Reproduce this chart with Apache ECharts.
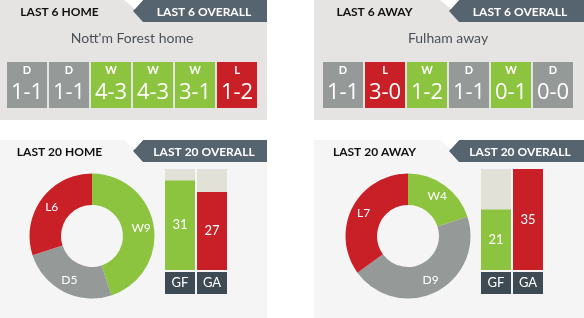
<!DOCTYPE html>
<html>
<head>
<meta charset="utf-8">
<script src="https://cdn.jsdelivr.net/npm/echarts@6/dist/echarts.min.js"></script>
<style>
  html, body { margin: 0; padding: 0; background: #fff; }
  #main { width: 584px; height: 318px; }
</style>
</head>
<body>
<div id="main"></div>
<script>
// last 6
var slots = ['1', '2', '3', '4', '5', '6'];
var homeResults = ['D', 'D', 'W', 'W', 'W', 'L'];
var homeScores = ['1-1', '1-1', '4-3', '4-3', '3-1', '1-2'];
var awayResults = ['D', 'L', 'W', 'D', 'W', 'D'];
var awayScores = ['1-1', '3-0', '1-2', '1-1', '0-1', '0-0'];

// last 20
var wdlNames = ['W', 'D', 'L'];
var homeWDL = [9, 5, 6];
var awayWDL = [4, 9, 7];
var goalCats = ['GF', 'GA'];
var homeGoals = [31, 27];
var awayGoals = [21, 35];
var goalMax = 35;

var GREEN = '#8cc43f', RED = '#c91f27', GREY = '#959a98';
var resultColor = { W: GREEN, D: GREY, L: RED };

var mychart = echarts.init(document.getElementById('main'));

function formBars(results, scores) {
    return results.map(function (r, i) {
        return { value: 1, res: r, score: scores[i], itemStyle: { color: resultColor[r] } };
    });
}

function goalBars(goals) {
    return goals.map(function (g, i) {
        return { value: g, itemStyle: { color: i === 0 ? GREEN : RED } };
    });
}

function pieData(vals) {
    var cols = [GREEN, GREY, RED];
    return vals.map(function (v, i) {
        return { name: wdlNames[i], value: v, itemStyle: { color: cols[i] } };
    });
}

// tab header: light part + dark arrow tab
function header(x0, y0, w, tabX, left, right) {
    return [
        { type: 'polygon', z: 1, shape: { points: [[tabX + 10, y0], [x0 + w, y0], [x0 + w, y0 + 22], [tabX + 10, y0 + 22], [tabX, y0 + 11]] }, style: { fill: '#56646f' } },
        { type: 'polygon', z: 1, shape: { points: [[tabX - 9, y0], [tabX + 10, y0], [tabX + 2, y0 + 9]] }, style: { fill: '#fff' } },
        { type: 'text', z: 5, x: (x0 + tabX) / 2 - 7, y: y0 + 12, style: { text: left, fill: '#111', font: 'bold 12px Lato', align: 'center', verticalAlign: 'middle' } },
        { type: 'text', z: 5, x: tabX + 71, y: y0 + 12, style: { text: right, fill: '#fff', font: 'bold 12px Lato', align: 'center', verticalAlign: 'middle' } }
    ];
}

var graphics = [
    { type: 'rect', z: 0, shape: { x: 0, y: 0, width: 267, height: 120 }, style: { fill: '#e6e4e2' } },
    { type: 'rect', z: 0, shape: { x: 314, y: 0, width: 270, height: 120 }, style: { fill: '#e6e4e2' } },
    { type: 'rect', z: 0, shape: { x: 0, y: 140, width: 267, height: 178 }, style: { fill: '#f5f5f5' } },
    { type: 'rect', z: 0, shape: { x: 314, y: 140, width: 270, height: 178 }, style: { fill: '#f5f5f5' } },
    { type: 'text', z: 5, x: 132, y: 38, style: { text: "Nott'm Forest home", fill: '#4b5058', font: '14px Lato', align: 'center', verticalAlign: 'middle' } },
    { type: 'text', z: 5, x: 448, y: 38, style: { text: 'Fulham away', fill: '#4b5058', font: '14px Lato', align: 'center', verticalAlign: 'middle' } }
];
graphics = graphics.concat(
    header(0, 0, 267, 133, 'LAST 6 HOME', 'LAST 6 OVERALL'),
    header(314, 0, 270, 449, 'LAST 6 AWAY', 'LAST 6 OVERALL'),
    header(0, 140, 267, 133, 'LAST 20 HOME', 'LAST 20 OVERALL'),
    header(314, 140, 270, 449, 'LAST 20 AWAY', 'LAST 20 OVERALL')
);

var formLabel = {
    show: true,
    position: 'inside',
    formatter: function (p) { return '{r|' + p.data.res + '}\n{s|' + p.data.score + '}'; },
    rich: {
        r: { color: '#fff', fontSize: 11, fontWeight: 'bold', fontFamily: 'Lato', lineHeight: 16 },
        s: { color: '#fff', fontSize: 22, fontFamily: 'Open Sans', lineHeight: 30 }
    }
};

var goalAxisLabel = {
    show: true,
    margin: 2,
    color: '#fff',
    fontSize: 13,
    fontFamily: 'Lato',
    backgroundColor: '#3e4a54',
    width: 30,
    height: 22,
    lineHeight: 22,
    align: 'center'
};

option = {
    animation: false,
    graphic: graphics,
    grid: [
        { left: 6, top: 62, width: 252, height: 46 },
        { left: 322, top: 62, width: 252, height: 46 },
        { left: 164, top: 169, width: 64, height: 101 },
        { left: 480, top: 169, width: 64, height: 101 }
    ],
    xAxis: [
        { gridIndex: 0, type: 'category', data: slots, show: false },
        { gridIndex: 1, type: 'category', data: slots, show: false },
        { gridIndex: 2, type: 'category', data: goalCats, axisLine: { show: false }, axisTick: { show: false }, axisLabel: goalAxisLabel },
        { gridIndex: 3, type: 'category', data: goalCats, axisLine: { show: false }, axisTick: { show: false }, axisLabel: goalAxisLabel }
    ],
    yAxis: [
        { gridIndex: 0, type: 'value', min: 0, max: 1, show: false },
        { gridIndex: 1, type: 'value', min: 0, max: 1, show: false },
        { gridIndex: 2, type: 'value', min: 0, max: goalMax, show: false },
        { gridIndex: 3, type: 'value', min: 0, max: goalMax, show: false }
    ],
    series: [
        { type: 'bar', xAxisIndex: 0, yAxisIndex: 0, barWidth: 40, data: formBars(homeResults, homeScores), label: formLabel },
        { type: 'bar', xAxisIndex: 1, yAxisIndex: 1, barWidth: 40, data: formBars(awayResults, awayScores), label: formLabel },
        {
            type: 'bar', xAxisIndex: 2, yAxisIndex: 2, barWidth: 30, data: goalBars(homeGoals),
            showBackground: true, backgroundStyle: { color: '#e2e1d8' },
            label: { show: true, position: 'inside', color: '#fff', fontSize: 13, fontFamily: 'Lato' }
        },
        {
            type: 'bar', xAxisIndex: 3, yAxisIndex: 3, barWidth: 30, data: goalBars(awayGoals),
            showBackground: true, backgroundStyle: { color: '#e2e1d8' },
            label: { show: true, position: 'inside', color: '#fff', fontSize: 13, fontFamily: 'Lato' }
        },
        {
            type: 'pie', center: [92, 236], radius: [31, 62.5], startAngle: 90, clockwise: true,
            avoidLabelOverlap: false, data: pieData(homeWDL),
            label: { show: true, position: 'inside', formatter: '{b}{c}', color: '#fff', fontSize: 12, fontFamily: 'Lato' },
            labelLine: { show: false }
        },
        {
            type: 'pie', center: [408, 236], radius: [31, 62.5], startAngle: 90, clockwise: true,
            avoidLabelOverlap: false, data: pieData(awayWDL),
            label: { show: true, position: 'inside', formatter: '{b}{c}', color: '#fff', fontSize: 12, fontFamily: 'Lato' },
            labelLine: { show: false }
        }
    ]
};
mychart.setOption(option);
</script>
</body>
</html>
